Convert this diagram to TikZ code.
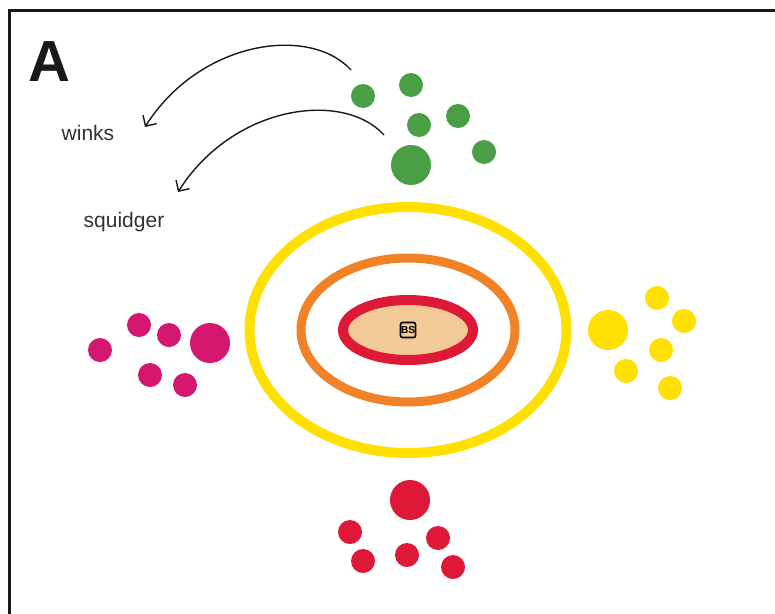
\documentclass[tikz,border=0pt]{standalone}
\usepackage{fontspec}
\usepackage{xcolor}
\usetikzlibrary{shapes.geometric}
\usetikzlibrary{positioning}
\usetikzlibrary{arrows.meta,calc}
\newfontfamily\labelfont{Liberation Sans}
\newfontfamily\bigfont{Liberation Sans}

\definecolor{dotgreen}{RGB}{74,158,69}
\definecolor{dotpink}{RGB}{212,24,111}
\definecolor{dotyellow}{RGB}{255,224,0}
\definecolor{dotred}{RGB}{222,25,55}
\definecolor{ringorange}{RGB}{242,130,40}
\definecolor{wood}{RGB}{242,202,152}

\begin{document}
\begin{tikzpicture}[
x=1pt, y=-1pt,
>={Straight Barb[length=8pt,width=16pt,line width=1.4pt]},
ring/.style={ellipse,draw,inner sep=0pt,line width=10pt},
small/.style={circle,inner sep=0pt,minimum size=24pt},
big/.style={circle,inner sep=0pt,minimum size=40pt},
word/.style={font=\labelfont\fontsize{21}{21}\selectfont,text=black!80}]
\useasboundingbox (0,0) rectangle (775,613);
\fill[white] (0,0) rectangle (775,613);
\draw[line width=3pt,black!90] (9,640) -- (9,10) -- (800,10);
\node[font=\bigfont\bfseries\fontsize{58}{58}\selectfont,anchor=base west,text=black!90] (panel) at (25,81) {A};

% rings round the centre
\node [ring,draw=dotyellow,minimum width=317pt,minimum height=246pt] (yellow) at (408,330) {};
\node [ring,draw=ringorange,line width=9pt,minimum width=214pt,minimum height=144pt] (orange) at (408,330) {};
\node [ring,draw=dotred,fill=wood,minimum width=130pt,minimum height=60pt] (red) at (408,330) {};
\node [draw,line width=1.6pt,rounded corners=2pt,minimum size=15pt,inner sep=0pt,font=\labelfont\bfseries\fontsize{10}{10}\selectfont] (bs) at (408,330) {BS};

% green
\node [small,fill=dotgreen] (g1) at (363,96) {};
\node [small,fill=dotgreen] (g2) at (411,85) {};
\node [small,fill=dotgreen] (g3) at (419,125) {};
\node [small,fill=dotgreen] (g4) at (458,116) {};
\node [small,fill=dotgreen] (g5) at (484,152) {};
\node [big,fill=dotgreen] (g6) at (411,165) {};

% pink
\node [small,fill=dotpink] (p1) at (100,350) {};
\node [small,fill=dotpink] (p2) at (139,325) {};
\node [small,fill=dotpink] (p3) at (169,335) {};
\node [big,fill=dotpink] (p4) at (210,343) {};
\node [small,fill=dotpink] (p5) at (150,375) {};
\node [small,fill=dotpink] (p6) at (185,385) {};

% yellow
\node [small,fill=dotyellow] (y1) at (657,298) {};
\node [small,fill=dotyellow] (y2) at (684,321) {};
\node [big,fill=dotyellow] (y3) at (608,330) {};
\node [small,fill=dotyellow] (y4) at (661,350) {};
\node [small,fill=dotyellow] (y5) at (626,371) {};
\node [small,fill=dotyellow] (y6) at (670,388) {};

% red
\node [big,fill=dotred] (r1) at (410,500) {};
\node [small,fill=dotred] (r2) at (350,532) {};
\node [small,fill=dotred] (r3) at (438,538) {};
\node [small,fill=dotred] (r4) at (363,561) {};
\node [small,fill=dotred] (r5) at (407,555) {};
\node [small,fill=dotred] (r6) at (453,567) {};

% labels and arrows
\node [word] (winks) at (88,133) {winks};
\node [word] (squidger) at (124,222) {squidger};
\coordinate (w0) at (351,70);
\coordinate (w1) at (145,127);
\coordinate (s0) at (384,135);
\coordinate (s1) at (178,192);
\draw [->,line width=1.4pt,black!90] (w0) .. controls (310,25) and (200,40) .. (w1);
\draw [->,line width=1.4pt,black!90] (s0) .. controls (343,90) and (233,105) .. (s1);
\end{tikzpicture}
\end{document}
